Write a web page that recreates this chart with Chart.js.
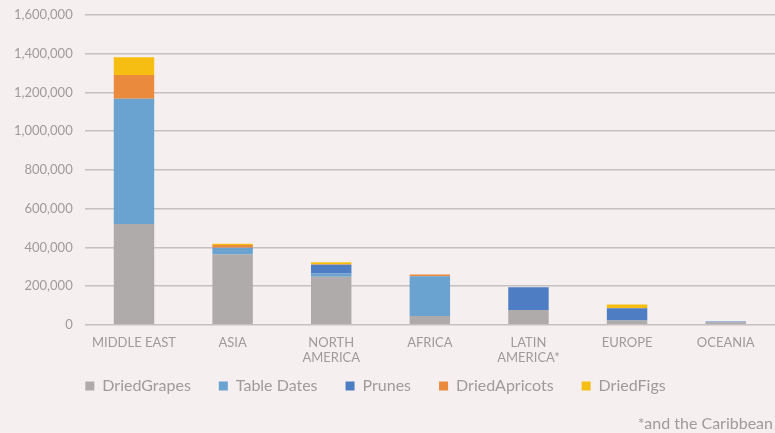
<!DOCTYPE html>
<html>
<head>
<meta charset="utf-8">
<script src="https://cdn.jsdelivr.net/npm/chart.js@4/dist/chart.umd.min.js"></script>
<style>
  html, body { margin: 0; padding: 0; background: #f5efef; }
  #wrap { width: 775px; height: 433px; }
</style>
</head>
<body>
<div id="wrap"><canvas id="c" width="775" height="433"></canvas></div>
<script>
const categories = ['MIDDLE EAST', 'ASIA', ['NORTH', 'AMERICA'], 'AFRICA', ['LATIN', 'AMERICA*'], 'EUROPE', 'OCEANIA'];
const seriesNames = ['DriedGrapes', 'Table Dates', 'Prunes', 'DriedApricots', 'DriedFigs'];
const driedGrapes   = [520000, 363000, 248000, 45000, 76000, 22000, 13000];
const tableDates    = [647000, 35000, 17000, 206000, 0, 0, 0];
const prunes        = [0, 0, 45000, 0, 118000, 63000, 4000];
const driedApricots = [123000, 14000, 3000, 9000, 0, 0, 0];
const driedFigs     = [92000, 6000, 10000, 0, 0, 20000, 0];
const footnote = '*and the Caribbean';

const colors = ['#afabab', '#6aa2d0', '#4e7dc3', '#e98a3d', '#f6bd12'];
const values = [driedGrapes, tableDates, prunes, driedApricots, driedFigs];
const textColor = '#a09a9a';
const fontFamily = 'Lato, "Open Sans", sans-serif';

const footnotePlugin = {
  id: 'footnote',
  beforeDraw(chart) {
    const lg = chart.legend;
    if (lg && !lg._shifted) {
      lg.left -= 13; lg.right -= 13;
      lg.top -= 18; lg.bottom -= 18;
      lg._shifted = true;
    }
  },
  afterDraw(chart) {
    const ctx = chart.ctx;
    ctx.save();
    ctx.font = '16px ' + fontFamily;
    ctx.fillStyle = textColor;
    ctx.textAlign = 'right';
    ctx.textBaseline = 'middle';
    ctx.fillText(footnote, chart.width - 2, chart.height - 9);
    ctx.restore();
  }
};

new Chart(document.getElementById('c'), {
  type: 'bar',
  data: {
    labels: categories,
    datasets: seriesNames.map((n, i) => ({
      label: n,
      data: values[i],
      backgroundColor: colors[i],
      borderWidth: 0,
      barPercentage: 1,
      categoryPercentage: 0.41
    }))
  },
  options: {
    responsive: false,
    animation: false,
    layout: { padding: { top: 15, right: 0, left: 2, bottom: 11 } },
    scales: {
      x: {
        stacked: true,
        grid: { display: false, drawTicks: false },
        border: { display: false },
        ticks: { color: textColor, font: { family: fontFamily, size: 13 }, padding: 10, maxRotation: 0, autoSkip: false },
        afterFit(scale) { scale.height -= 8; }
      },
      y: {
        stacked: true,
        min: 0, max: 1600000,
        ticks: {
          stepSize: 200000, color: textColor, padding: 12,
          font: { family: fontFamily, size: 13 },
          callback: v => v.toLocaleString('en-US')
        },
        grid: { color: '#c6c0c0', lineWidth: 1.5, drawTicks: false },
        border: { display: false },
        afterFit(scale) { scale.paddingTop = 0; }
      }
    },
    plugins: {
      legend: {
        position: 'bottom',
        labels: {
          color: textColor, boxWidth: 9, boxHeight: 9, padding: 28,
          font: { family: fontFamily, size: 16 }
        }
      },
      tooltip: { enabled: false }
    }
  },
  plugins: [footnotePlugin]
});
</script>
</body>
</html>
